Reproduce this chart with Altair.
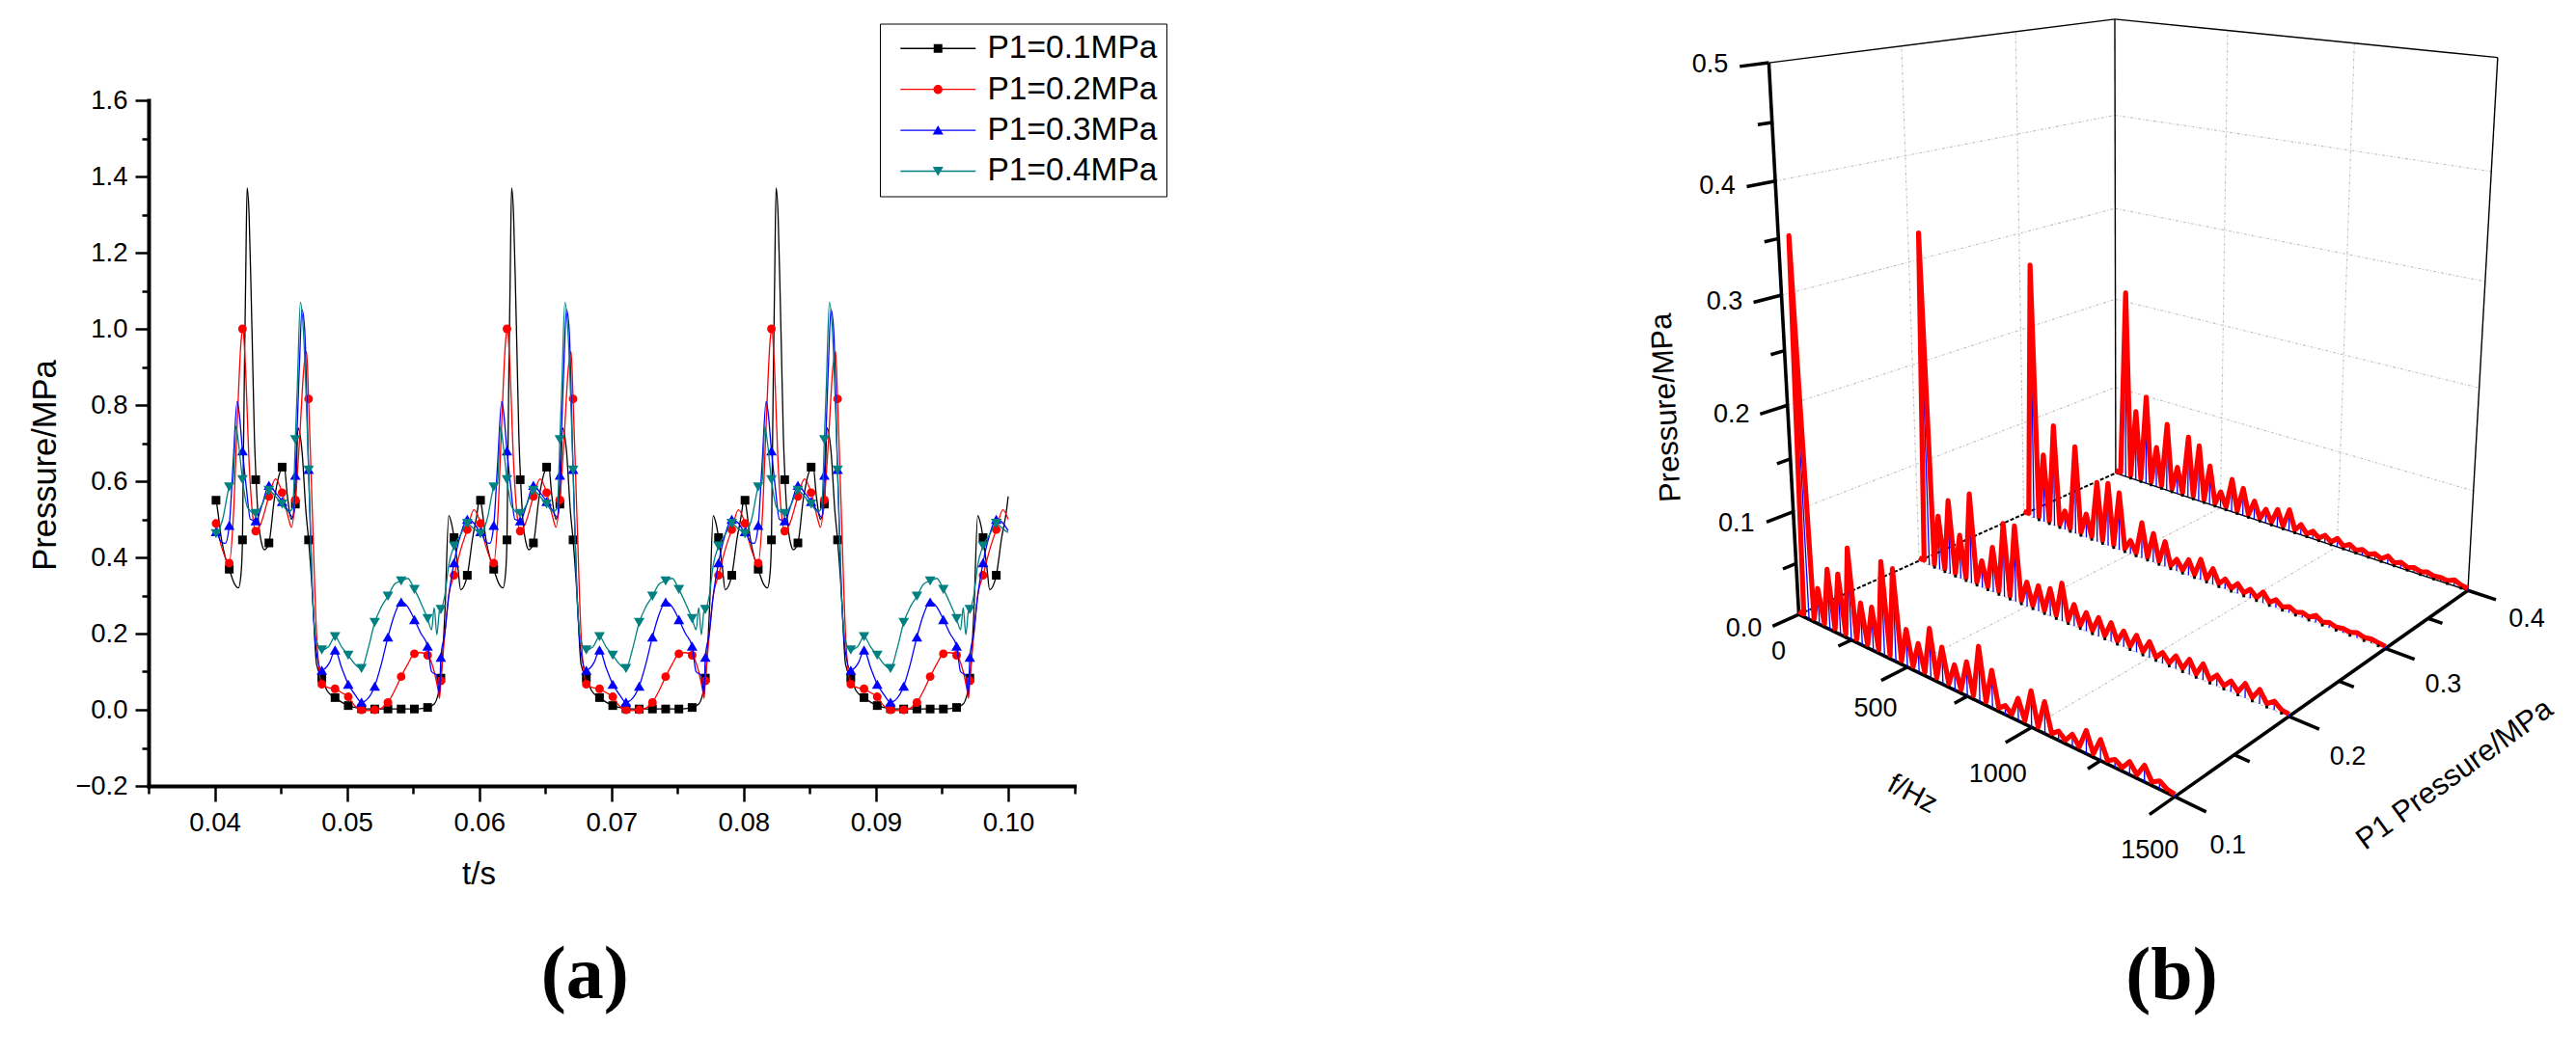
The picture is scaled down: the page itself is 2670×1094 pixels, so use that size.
import numpy as np
import pandas as pd
import altair as alt

# ------------------------------------------------------------------ panel (a)
SERIES = ["P1=0.1MPa", "P1=0.2MPa", "P1=0.3MPa", "P1=0.4MPa"]
COLORS = ["#000000", "#ff0000", "#0000ff", "#008080"]
SHAPES = ["square", "circle", "triangle-up", "triangle-down"]
SIZES = [81, 80, 121, 121]

# one 20 ms period: time in ms after 0.04 s, pressure in MPa
T_A = [0,.1,.5,.8,1.1,1.5,1.8,2.0,2.1,2.15,2.25,2.35,2.45,2.6,2.75,2.85,3.0,3.13,3.3,3.6,3.75,4.1,4.5,4.9,5.1,5.25,5.5,5.8,6.1,6.3,6.6,6.9,7.1,7.4,7.7,8.1,8.5,9.1,9.6,10.1,10.6,11.1,12.1,13.1,14.1,15.1,16.1,16.6,17.1,17.4,17.7,17.9,18.1,18.4,18.6,19.1,19.5,19.9]
V_A = [.56,.55,.45,.40,.369,.33,.32,.36,.446,.6,.9,1.15,1.37,1.30,1.10,.95,.72,.604,.50,.43,.42,.438,.55,.62,.637,.64,.56,.50,.54,.74,.68,.52,.446,.30,.12,.083,.05,.032,.02,.011,.006,.003,.002,.002,.002,.002,.006,.015,.083,.25,.51,.49,.452,.37,.315,.353,.45,.53]
T_B = [0,.1,.5,1.1,1.4,1.7,2.0,2.12,2.3,2.6,2.9,3.1,3.5,4.1,4.6,5.1,5.6,5.8,6.1,6.4,6.75,6.95,7.1,7.4,7.7,8.1,8.6,9.1,9.6,10.1,10.6,11.1,11.6,12.1,12.6,13.1,13.6,14.1,14.6,15.1,15.6,16.1,16.6,16.9,17.0,17.1,17.4,17.7,18.1,18.6,19.1,19.6]
V_B = [.50,.489,.43,.385,.5,.75,.97,1.0,.92,.65,.5,.469,.49,.56,.606,.57,.50,.479,.551,.70,.90,.94,.816,.5,.2,.067,.058,.055,.045,.034,.01,0,-.002,0,.004,.019,.05,.087,.12,.147,.15,.143,.10,.05,.03,.076,.2,.3,.353,.42,.473,.525]
T_C = [0,.1,.5,.8,1.1,1.4,1.7,1.85,2.1,2.4,2.7,3.1,3.6,4.1,4.6,5.1,5.6,5.9,6.1,6.4,6.6,6.8,7.1,7.4,7.7,8.1,8.4,8.7,9.1,9.6,10.1,10.6,11.1,11.6,12.1,12.6,13.1,13.6,14.1,14.6,15.1,15.6,16.1,16.4,16.8,17.0,17.1,17.4,17.7,18.1,18.6,19.1,19.6]
V_C = [.47,.468,.44,.437,.484,.65,.81,.78,.68,.58,.50,.496,.54,.589,.57,.547,.52,.505,.616,.90,1.05,1.0,.631,.3,.15,.104,.11,.125,.157,.11,.067,.04,.02,.03,.062,.12,.191,.25,.283,.27,.237,.2,.167,.10,.09,.04,.138,.2,.3,.386,.46,.5,.49]
T_D = [0,.1,.6,1.1,1.4,1.6,1.8,2.1,2.5,3.1,3.6,4.1,4.6,5.1,5.6,5.9,6.1,6.25,6.48,6.7,7.1,7.4,7.7,8.1,8.6,9.1,9.6,10.1,10.6,11.1,11.6,12.1,12.6,13.1,13.6,14.1,14.6,15.1,15.6,16.1,16.4,16.6,16.8,17.0,17.1,17.4,17.7,18.1,18.6,19.1,19.6]
V_D = [.465,.462,.50,.585,.60,.744,.70,.604,.53,.515,.54,.576,.56,.54,.52,.53,.709,.85,1.07,1.0,.629,.3,.18,.157,.165,.192,.165,.143,.12,.108,.16,.229,.27,.298,.33,.338,.345,.316,.28,.239,.21,.268,.197,.26,.263,.3,.38,.43,.46,.489,.475]

# plotted symbols, one per ms starting at 0.0401 s
M_A = [.55,.369,.446,.604,.438,.637,.54,.446,.083,.032,.011,.003,.002,.002,.002,.002,.006,.083,.452,.353]
M_B = [.489,.385,1.0,.469,.56,.57,.551,.816,.067,.055,.034,0,0,.019,.087,.147,.143,.076,.353,.473]
M_C = [.468,.484,.68,.496,.589,.547,.616,.631,.104,.157,.067,.02,.062,.191,.283,.237,.167,.138,.386,.5]
M_D = [.462,.585,.604,.515,.576,.54,.709,.629,.157,.192,.143,.108,.229,.298,.338,.316,.239,.263,.43,.489]

X_TICKS = [.035,.04,.045,.05,.055,.06,.065,.07,.075,.08,.085,.09,.095,.10,.105]
Y_TICKS = [-.2,-.1,0,.1,.2,.3,.4,.5,.6,.7,.8,.9,1.0,1.1,1.2,1.3,1.4,1.5,1.6]

KNOTS = [(T_A, V_A), (T_B, V_B), (T_C, V_C), (T_D, V_D)]
MARKS = [M_A, M_B, M_C, M_D]
PERIODS = [0, 1, 2]

FONT = "Liberation Sans"
CANVAS_W, CANVAS_H = 2654, 1078

x_scale = alt.Scale(domain=[.035, .105], range=[146, 1105.5], nice=False, zero=False)
y_scale = alt.Scale(domain=[-.2, 1.6], range=[807, 96], nice=False, zero=False)

x_axis = alt.Axis(
    values=X_TICKS, grid=False, title="t/s", titleFont=FONT, titleFontSize=33, titleFontWeight="normal",
    titleX=488, titleY=101, titleBaseline="alphabetic", titleAnchor="start", titleAlign="center",
    labelExpr="abs(datum.value*100-round(datum.value*100))<0.001 ? format(datum.value,'.2f') : ''",
    labelFont=FONT, labelFontSize=27.5, labelPadding=8, labelOverlap=False, labelFlush=False,
    domainWidth=4, domainColor="black", domainCap="square", tickColor="black", tickWidth=2.5,
    tickSize={"condition": {"test": "abs(datum.value*100-round(datum.value*100))<0.001", "value": 16}, "value": 8},
    offset=-271, orient="bottom", labelColor="black", titleColor="black",
)
y_axis = alt.Axis(
    values=Y_TICKS, grid=False, title="Pressure/MPa", titleFont=FONT, titleFontSize=34.5, titleFontWeight="normal",
    titleX=-107, titleY=474, titleAngle=270, titleBaseline="middle", titleAlign="center", titleAnchor="start",
    labelExpr="abs(datum.value*5-round(datum.value*5))<0.001 ? format(datum.value,'.1f') : ''",
    labelFont=FONT, labelFontSize=27.5, labelPadding=8, labelOverlap=False, labelFlush=False,
    domainWidth=4, domainColor="black", domainCap="square", tickColor="black", tickWidth=2.5,
    tickSize={"condition": {"test": "abs(datum.value*5-round(datum.value*5))<0.001", "value": 14}, "value": 7},
    offset=-146, orient="left", labelColor="black", titleColor="black",
)
X_A = alt.X("t:Q", scale=x_scale, axis=x_axis)
Y_A = alt.Y("p:Q", scale=y_scale, axis=y_axis)

layers_a = []
for name, color, shape, size, (tk, vk), mk in zip(SERIES, COLORS, SHAPES, SIZES, KNOTS, MARKS):
    lines = [{"t": .04 + .02 * n + a / 1000, "p": b} for n in PERIODS for a, b in zip(tk, vk)]
    lines.append({"t": .10, "p": vk[0]})
    points = [{"t": .0401 + .02 * n + k * .001, "p": b} for n in PERIODS for k, b in enumerate(mk)]
    layers_a.append(alt.Chart(pd.DataFrame(lines)).mark_line(color=color, strokeWidth=1.3, interpolate="monotone", clip=False).encode(x=X_A, y=Y_A))
    layers_a.append(alt.Chart(pd.DataFrame(points)).mark_point(shape=shape, size=size, filled=True, color=color, opacity=1, clip=False).encode(x=X_A, y=Y_A))

# legend: native, each symbol a path holding its short line and its marker
LINE_PATH = "M-8.667,-0.15H8.667V0.15H-8.667Z"
MARK_PATHS = [
    "M-1,-1H1V1H-1Z",
    "M1.05,0A1.05,1.05 0 1,1 -1.05,0A1.05,1.05 0 1,1 1.05,0Z",
    "M0,-1.1L1.22,1L-1.22,1Z",
    "M-1.22,-1L1.22,-1L0,1.1Z",
]
legend = alt.Legend(
    title=None, orient="none", legendX=904, legendY=16.5, padding=9, strokeColor="black", fillColor="white",
    labelFont=FONT, labelFontSize=33.5, labelColor="black", symbolSize=81, symbolOffset=34.5, labelOffset=34.5,
    rowPadding=7.4, symbolStrokeWidth=0, symbolOpacity=1, labelLimit=400,
)
legend_df = pd.DataFrame({"series": SERIES, "t": [.05] * 4, "p": [.5] * 4})
legend_layer = alt.Chart(legend_df).transform_filter("false").mark_point(filled=True, size=81, clip=False).encode(
    x=X_A, y=Y_A,
    shape=alt.Shape("series:N", scale=alt.Scale(domain=SERIES, range=[LINE_PATH + " " + m for m in MARK_PATHS]), legend=legend),
    color=alt.Color("series:N", scale=alt.Scale(domain=SERIES, range=COLORS), legend=legend),
)
tag_a = alt.Chart(pd.DataFrame({"t": [.068], "p": [-.758], "s": ["(a)"]})).mark_text(
    font="Liberation Serif", fontWeight="bold", fontSize=78, align="center", baseline="alphabetic", color="black", clip=False
).encode(x=X_A, y=Y_A, text="s:N")
panel_a = alt.layer(*layers_a, legend_layer, tag_a)

# ------------------------------------------------------------------ panel (b)
HARM_F = [50 * k for k in range(1, 31)]
SPEC_1 = [.355,.035,.058,.058,.087,.04,.041,.088,.086,.035,.027,.046,.034,.023,.031,.05,.034,.008,.02,.032,.028,.008,.011,.02,.018,.007,.011,.014,.007,.002]
SPEC_2 = [.33,.055,.075,.044,.09,.027,.045,.073,.075,.024,.025,.027,.037,.021,.018,.018,.018,.015,.016,.015,.01,.012,.014,.015,.01,.01,.013,.013,.008,.002]
SPEC_3 = [.27,.073,.108,.02,.093,.025,.063,.066,.06,.014,.037,.03,.026,.012,.016,.021,.016,.01,.01,.009,.011,.008,.006,.005,.007,.005,.004,.005,.004,.002]
SPEC_4 = [.21,.079,.099,.045,.075,.03,.068,.062,.043,.018,.036,.03,.02,.015,.019,.023,.011,.008,.008,.009,.007,.006,.006,.008,.006,.005,.005,.004,.006,.002]
SPECTRA = [(.4, SPEC_4), (.3, SPEC_3), (.2, SPEC_2), (.1, SPEC_1)]
FLOOR_V = .003

V_AXIS = [0, .1, .2, .3, .4, .5]
F_AXIS = [0, 500, 1000, 1500]
P_AXIS = [.1, .2, .3, .4]
V_MINOR = [.05, .15, .25, .35, .45]
F_MINOR = [250, 750, 1250]
P_MINOR = [.15, .25, .35]

# where box corners and axis ticks fall on the picture: fits the camera
CAMERA = [
    (0,.1,0,1863.3,637),(500,.1,0,1976,691.7),(1000,.1,0,2106.7,754.3),(1500,.1,0,2254.5,826),
    (1500,.2,0,2372,743.3),(1500,.3,0,2472.7,671.7),(1500,.4,0,2557.5,612.7),(0,.2,0,1991.7,581.7),
    (0,.3,0,2098.3,533.3),(0,.4,0,2192,490.7),(0,.1,.5,1834,66),(0,.1,.4,1840.3,187.7),(0,.1,.3,1845.7,306),
    (0,.1,.2,1852.3,420),(0,.1,.1,1858.3,530),(0,.4,.5,2192,19.3),(1500,.4,.5,2589.3,59.3),
    (500,.4,.5,2308.7,31.7),(1000,.4,.5,2440,45),(500,.4,0,2302,527),(1000,.4,0,2422,567),
]

def norm(f, P, v):
    return f / 1500, (P - .1) / .3, v / .5

A = []
B = []
for f, P, v, px, py in CAMERA:
    a, b, c = norm(f, P, v)
    A.append([a, b, c, 1, 0, 0, 0, 0, -px * a, -px * b, -px * c])
    B.append(px)
    A.append([0, 0, 0, 0, a, b, c, 1, -py * a, -py * b, -py * c])
    B.append(py)
M = np.linalg.lstsq(np.array(A), np.array(B), rcond=None)[0]

def project(f, P, v):
    a, b, c = norm(f, P, v)
    w = M[8] * a + M[9] * b + M[10] * c + 1
    return (M[0] * a + M[1] * b + M[2] * c + M[3]) / w - 8, (M[4] * a + M[5] * b + M[6] * c + M[7]) / w - 8

X_B = alt.X("x:Q", scale=alt.Scale(domain=[0, CANVAS_W], range=[0, CANVAS_W], nice=False, zero=False), axis=None)
Y_B = alt.Y("y:Q", scale=alt.Scale(domain=[0, CANVAS_H], range=[0, CANVAS_H], nice=False, zero=False), axis=None)
X2_B, Y2_B = alt.X2("x2:Q"), alt.Y2("y2:Q")

def seg_df(segs):
    rows = []
    for s, e in segs:
        x, y = project(*s)
        x2, y2 = project(*e)
        rows.append({"x": x, "y": y, "x2": x2, "y2": y2})
    return pd.DataFrame(rows)

def rules(segs, **kw):
    return alt.Chart(seg_df(segs)).mark_rule(clip=False, **kw).encode(x=X_B, y=Y_B, x2=X2_B, y2=Y2_B)

grid = []
for v in V_AXIS[1:-1]:
    grid += [((0, .1, v), (0, .4, v)), ((0, .4, v), (1500, .4, v))]
for P in [.2, .3]:
    grid.append(((0, P, 0), (0, P, .5)))
for f in [500, 1000]:
    grid += [((f, .4, 0), (f, .4, .5)), ((f, .1, 0), (f, .4, 0))]
for P in [.2, .3]:
    grid.append(((0, P, 0), (1500, P, 0)))
edges = [((0, .1, .5), (0, .4, .5)), ((0, .4, .5), (1500, .4, .5)), ((0, .4, 0), (0, .4, .5)), ((1500, .4, 0), (1500, .4, .5)), ((0, .4, 0), (1500, .4, 0))]
floor_edge = [((0, .1, 0), (0, .4, 0))]

DP_MAJOR, DP_MINOR, DF_MAJOR, DF_MINOR = .02, .01, 100, 50
heavy = [((0, .1, 0), (0, .1, .5)), ((0, .1, 0), (1500, .1, 0)), ((1500, .1, 0), (1500, .4, 0))]
major = [((0, .1, v), (0, .1 - DP_MAJOR, v)) for v in V_AXIS]
major += [((f, .1, 0), (f, .1 - DP_MAJOR, 0)) for f in F_AXIS[1:]]
major += [((1500, P, 0), (1500 + DF_MAJOR, P, 0)) for P in P_AXIS]
minor = [((0, .1, v), (0, .1 - DP_MINOR, v)) for v in V_MINOR]
minor += [((f, .1, 0), (f, .1 - DP_MINOR, 0)) for f in F_MINOR]
minor += [((1500, P, 0), (1500 + DF_MINOR, P, 0)) for P in P_MINOR]

spikes, red, dots = [], [], []
for P, spec in SPECTRA:
    for f, a in zip(HARM_F, spec):
        spikes.append(((f, P, 0), (f, P, a)))
    path = [(0, FLOOR_V), (25, FLOOR_V)]
    for f, a in zip(HARM_F, spec):
        path += [(f, a), (f + 25, FLOOR_V)]
    i0 = len(red)
    for i, (f, a) in enumerate(path):
        if f > 1500:
            continue
        x, y = project(f, P, a)
        red.append({"x": x, "y": y, "i": i0 + i, "P": str(P)})
    for f in HARM_F[:-1]:
        x, y = project(f + 25, P, 0)
        dots.append({"x": x, "y": y})

red_layer = alt.Chart(pd.DataFrame(red)).mark_line(color="#ff0000", strokeWidth=5.2, strokeJoin="round", clip=False).encode(
    x=X_B, y=Y_B, detail="P:N", order=alt.Order("i:Q"))
dot_layer = alt.Chart(pd.DataFrame(dots)).mark_point(shape="square", size=8, filled=True, color="black", opacity=1, clip=False).encode(x=X_B, y=Y_B)

# tick labels: projected tick position plus the picture's pixel offset from it
V_OFF = [(-57, 15), (-59, 12), (-58, 10), (-59, 7), (-60, 5), (-61, 2)]
F_OFF = [(-21, 39), (-33, 43), (-35, 49), (-26, 56)]
P_OFF = [(55, 51), (61, 42), (60, 38), (61, 30)]
labels = []
for v, (dx, dy) in zip(V_AXIS, V_OFF):
    x, y = project(0, .1, v)
    labels.append({"x": x + dx, "y": y + dy, "s": f"{v:.1f}"})
for f, (dx, dy) in zip(F_AXIS, F_OFF):
    x, y = project(f, .1, 0)
    labels.append({"x": x + dx, "y": y + dy, "s": str(f)})
for P, (dx, dy) in zip(P_AXIS, P_OFF):
    x, y = project(1500, P, 0)
    labels.append({"x": x + dx, "y": y + dy, "s": f"{P:.1f}"})
label_layer = alt.Chart(pd.DataFrame(labels)).mark_text(font=FONT, fontSize=27, align="center", baseline="middle", color="black", clip=False).encode(x=X_B, y=Y_B, text="s:N")

def title_layer(text, anchor, off, angle, size=31):
    x, y = project(*anchor)
    df = pd.DataFrame({"x": [x + off[0]], "y": [y + off[1]], "s": [text]})
    return alt.Chart(df).mark_text(font=FONT, fontSize=size, angle=angle, align="center", baseline="middle", color="black", clip=False).encode(x=X_B, y=Y_B, text="s:N")

tag_b = alt.Chart(pd.DataFrame({"x": [2243], "y": [1028], "s": ["(b)"]})).mark_text(
    font="Liberation Serif", fontWeight="bold", fontSize=78, align="center", baseline="alphabetic", color="black", clip=False
).encode(x=X_B, y=Y_B, text="s:N")

panel_b = alt.layer(
    rules(grid, color="#c0c0c0", strokeWidth=1.1, strokeDash=[3, 2, 1, 2]),
    rules(edges, color="black", strokeWidth=1.4),
    rules(floor_edge, color="black", strokeWidth=2, strokeDash=[4, 2]),
    rules(major + minor, color="black", strokeWidth=3.5),
    rules(heavy, color="black", strokeWidth=3.6),
    rules(spikes, color="#0000ff", strokeWidth=1.3),
    red_layer,
    dot_layer,
    label_layer,
    title_layer("Pressure/MPa", (0, .1, .2), (-125, 2.5), 267),
    title_layer("f/Hz", (750, .1, 0), (-57, 101.6), 28, 30),
    title_layer("P1 Pressure/MPa", (1500, .3, 0), (72, 131), 324),
    tag_b,
)

chart = alt.layer(panel_a, panel_b).resolve_scale(x="independent", y="independent", shape="independent", color="independent").properties(
    width=CANVAS_W, height=CANVAS_H, autosize=alt.AutoSizeParams(type="none"), padding=0, background="white"
).configure_view(stroke=None)

chart.save("out.html", embed_options={"renderer": "svg", "actions": False})
